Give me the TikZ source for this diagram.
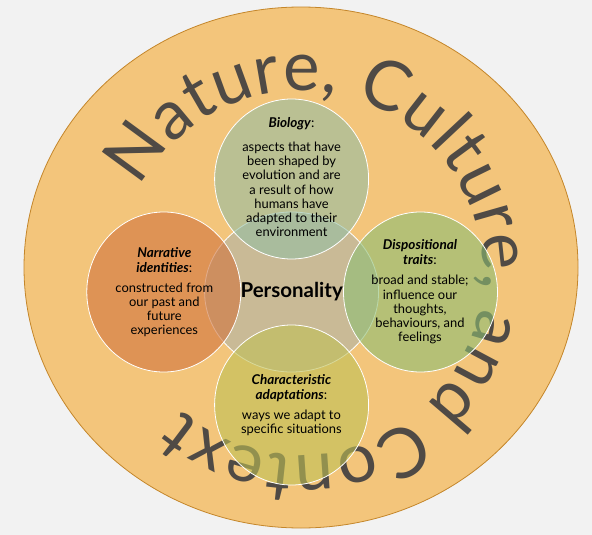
\documentclass[tikz,border=0pt]{standalone}
\usepackage{fontspec}
\setmainfont{Lato}
\usetikzlibrary{decorations.text}
\definecolor{bgray}{HTML}{F2F2F2}
\definecolor{bigfill}{HTML}{F3C57B}
\definecolor{bigedge}{HTML}{C4862A}
\definecolor{textgray}{HTML}{4F4A45}
\definecolor{centerfill}{HTML}{C9BA96}
\definecolor{biofill}{RGB}{148,190,163}
\definecolor{narrfill}{RGB}{208,115,60}
\definecolor{dispfill}{RGB}{141,190,115}
\definecolor{charfill}{RGB}{191,192,85}
\newcommand\curvefont{\fontsize{69}{71}\selectfont}
\tikzset{
  blob/.style={fill=#1, fill opacity=0.6, draw=white, draw opacity=1, line width=0.8pt},
  ttl/.style={align=center, inner sep=0pt, text=black, font=\fontsize{13.5}{15}\selectfont},
  body/.style={align=center, inner sep=0pt, text=black, font=\fontsize{12.9}{14.2}\selectfont},
}
\begin{document}
\begin{tikzpicture}[x=1pt,y=1pt]
\useasboundingbox (0,0) rectangle (592,-535);
\fill[bgray] (0,0) rectangle (592,-535);
% big background ellipse
\draw[fill=bigfill, draw=bigedge, line width=0.8pt] (301,-267.5) ellipse [x radius=277, y radius=260.5];
% curved text
\path[decorate, decoration={text along path, text align={fit to path},
  text={|\curvefont\color{textgray}|Nature, Culture, and Context}}]
  (301,-273) ++(152:182) arc[start angle=152, end angle=-131, radius=182];
% central circle
\draw[fill=centerfill, draw=white, line width=0.8pt] (291.6,-292) ellipse [x radius=87, y radius=80];
% four surrounding circles
\path[blob=biofill] (291.6,-179) ellipse [x radius=77, y radius=80];
\path[blob=narrfill] (163.8,-292) ellipse [x radius=77, y radius=80];
\path[blob=dispfill] (420.5,-292) ellipse [x radius=77, y radius=80];
\path[blob=charfill] (291.6,-405) ellipse [x radius=77, y radius=80];
% texts
\node[font=\fontsize{20.5}{22}\selectfont\bfseries, inner sep=0pt] (pers) at (291.7,-292) {Personality};
\node[ttl] (biot) at (291.6,-124) {\textbf{\textit{Biology}}:};
\node[body] (biob) at (291.6,-189.5) {aspects that have\\been shaped by\\evolution and are\\a result of how\\humans have\\adapted to their\\environment};
\node[ttl] (narrt) at (164.3,-259.8) {\textbf{\textit{Narrative}}\\\textbf{\textit{identities}}:};
\node[body] (narrb) at (164.3,-309.7) {constructed from\\our past and\\future\\experiences};
\node[ttl] (dispt) at (420,-252.2) {\textbf{\textit{Dispositional}}\\\textbf{\textit{traits}}:};
\node[body] (dispb) at (420,-309.7) {broad and stable;\\influence our\\thoughts,\\behaviours, and\\feelings};
\node[ttl] (chart) at (291.4,-388.2) {\textbf{\textit{Characteristic}}\\\textbf{\textit{adaptations}}:};
\node[body] (charb) at (291.4,-422.9) {ways we adapt to\\specific situations};
\end{tikzpicture}
\end{document}
